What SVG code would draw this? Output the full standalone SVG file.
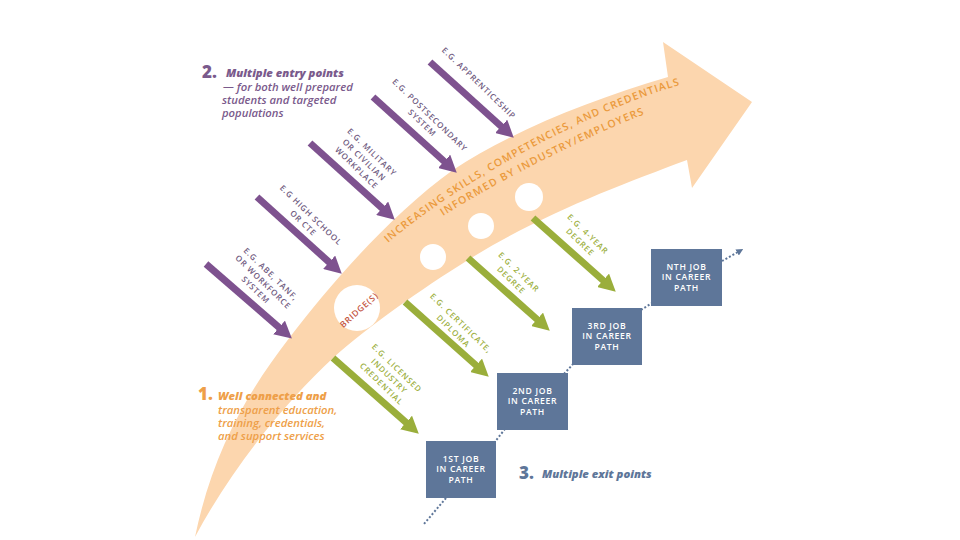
<svg xmlns="http://www.w3.org/2000/svg" width="960" height="540" viewBox="0 0 960 540">
<defs>
<style>
.pt{font-family:"Open Sans","Liberation Sans",sans-serif;font-size:8px;font-weight:600;fill:#6f5a80;text-anchor:middle;letter-spacing:0.9px}
.gt{font-family:"Open Sans","Liberation Sans",sans-serif;font-size:8px;font-weight:600;fill:#9db03f;text-anchor:middle;letter-spacing:0.9px}
.bt{font-family:"Open Sans","Liberation Sans",sans-serif;font-size:8.6px;font-weight:600;fill:#ffffff;text-anchor:middle;letter-spacing:0.7px}
.box{fill:#5e7699}
.band{font-family:"Open Sans","Liberation Sans",sans-serif;font-size:10.5px;font-weight:600;fill:#eb9a3c;letter-spacing:0.6px}
.pa{stroke:#7e528f;stroke-width:7;fill:none;marker-end:url(#ahP)}
.ga{stroke:#9aae3b;stroke-width:7;fill:none;marker-end:url(#ahG)}
.dot{stroke:#5e7699;stroke-width:2;stroke-dasharray:2 2;fill:none}
.lbl{font-family:"Open Sans","Liberation Sans",sans-serif;font-style:italic;font-weight:600;font-size:11.3px}
.num{font-family:"Open Sans","Liberation Sans",sans-serif;font-weight:800;font-size:17px}
</style>
<marker id="ahP" markerUnits="userSpaceOnUse" markerWidth="17" markerHeight="18" refX="1" refY="9" orient="auto" viewBox="0 0 17 18"><path d="M0,0 L17,9 L0,18 z" fill="#7e528f"/></marker>
<marker id="ahG" markerUnits="userSpaceOnUse" markerWidth="17" markerHeight="18" refX="1" refY="9" orient="auto" viewBox="0 0 17 18"><path d="M0,0 L17,9 L0,18 z" fill="#9aae3b"/></marker>
<marker id="ahB" markerUnits="userSpaceOnUse" markerWidth="7" markerHeight="7" refX="1" refY="3.5" orient="auto" viewBox="0 0 7 7"><path d="M0,0 L7,3.5 L0,7 z" fill="#5e7699"/></marker>
<path id="t1" d="M388,243 C455,185 585,112 680,85"/>
<path id="t2" d="M443,216 C493,184 585,137 645,114"/>
</defs>
<rect width="960" height="540" fill="#ffffff"/>

<g id="band">
<path d="M195,537 C212,455 245,395 290,337 C330,285 390,215 453,170 C510,132 590,100 668,77 L663,42 L752,102 L692,188 L687,160 C620,185 540,215 468,260 C420,290 370,325 333,358 C290,398 235,462 195,537 Z" fill="#fcd6ae"/>
<text class="band"><textPath href="#t1" textLength="334" lengthAdjust="spacing">INCREASING SKILLS, COMPETENCIES, AND CREDENTIALS</textPath></text>
<text class="band"><textPath href="#t2" textLength="226" lengthAdjust="spacing">INFORMED BY INDUSTRY/EMPLOYERS</textPath></text>
</g>

<g id="bridge">
<circle cx="357" cy="308" r="23" fill="#ffffff"/>
<text transform="translate(359,310) rotate(-42)" y="3" style="font-family:'Open Sans','Liberation Sans',sans-serif;font-size:8.5px;font-weight:600;fill:#c4553f;text-anchor:middle;letter-spacing:0.8px">BRIDGE(S)</text>
</g>
<g id="step1"><circle cx="433" cy="257" r="13" fill="#ffffff"/></g>
<g id="step2"><circle cx="481" cy="226" r="13" fill="#ffffff"/></g>
<g id="step3"><circle cx="529" cy="197" r="14" fill="#ffffff"/></g>

<g id="connectors">
<line class="pa" x1="206" y1="264" x2="279.8" y2="328.1"/>
<line class="pa" x1="257" y1="197" x2="329.9" y2="262.9"/>
<line class="pa" x1="310" y1="143" x2="382.9" y2="208.9"/>
<line class="pa" x1="373" y1="97" x2="444.9" y2="162"/>
<line class="pa" x1="430" y1="62" x2="501.9" y2="127"/>
<line class="ga" x1="333" y1="358" x2="406.8" y2="423.1"/>
<line class="ga" x1="405" y1="302" x2="476.8" y2="366"/>
<line class="ga" x1="468" y1="258" x2="537.8" y2="320"/>
<line class="ga" x1="533" y1="218" x2="603.8" y2="281"/>
<line class="dot" x1="446" y1="498" x2="424" y2="524"/>
<line class="dot" x1="494" y1="443" x2="505" y2="429"/>
<line class="dot" x1="564" y1="374" x2="573" y2="364"/>
<line class="dot" x1="641" y1="310" x2="652" y2="303"/>
<line class="dot" x1="722" y1="261" x2="738" y2="252" style="marker-end:url(#ahB)"/>
</g>

<g id="entry-abe" transform="translate(271,274) rotate(44)">
<text class="pt" y="3">E.G. ABE, TANF,</text><text class="pt" y="14">OR WORKFORCE</text><text class="pt" y="25">SYSTEM</text>
</g>
<g id="entry-hs" transform="translate(311,215) rotate(44)">
<text class="pt" y="3">E.G HIGH SCHOOL</text><text class="pt" y="14">OR CTE</text>
</g>
<g id="entry-mil" transform="translate(372,152) rotate(44)">
<text class="pt" y="3">E.G. MILITARY</text><text class="pt" y="14">OR CIVILIAN</text><text class="pt" y="25">WORKPLACE</text>
</g>
<g id="entry-post" transform="translate(430,115) rotate(44)">
<text class="pt" y="3">E.G. POSTSECONDARY</text><text class="pt" y="14">SYSTEM</text>
</g>
<g id="entry-app" transform="translate(479,83) rotate(44)">
<text class="pt" y="3">E.G. APPRENTICESHIP</text>
</g>

<g id="exit-lic" transform="translate(397,368) rotate(44)">
<text class="gt" y="3">E.G. LICENSED</text><text class="gt" y="14">INDUSTRY</text><text class="gt" y="25">CREDENTIAL</text>
</g>
<g id="exit-cert" transform="translate(461,323) rotate(44)">
<text class="gt" y="3">E.G. CERTIFICATE,</text><text class="gt" y="14">DIPLOMA</text>
</g>
<g id="exit-2yr" transform="translate(519,272) rotate(44)">
<text class="gt" y="3">E.G. 2-YEAR</text><text class="gt" y="14">DEGREE</text>
</g>
<g id="exit-4yr" transform="translate(588,234) rotate(44)">
<text class="gt" y="3">E.G. 4-YEAR</text><text class="gt" y="14">DEGREE</text>
</g>

<g id="job1">
<rect class="box" x="426" y="441" width="70" height="57"/>
<text class="bt" x="461" y="461.5">1ST JOB</text><text class="bt" x="461" y="472">IN CAREER</text><text class="bt" x="461" y="482.5">PATH</text>
</g>
<g id="job2">
<rect class="box" x="497" y="373" width="71" height="57"/>
<text class="bt" x="532.5" y="393.5">2ND JOB</text><text class="bt" x="532.5" y="404">IN CAREER</text><text class="bt" x="532.5" y="414.5">PATH</text>
</g>
<g id="job3">
<rect class="box" x="572" y="308" width="70" height="57"/>
<text class="bt" x="607" y="328.5">3RD JOB</text><text class="bt" x="607" y="339">IN CAREER</text><text class="bt" x="607" y="349.5">PATH</text>
</g>
<g id="jobN">
<rect class="box" x="651" y="249" width="71" height="57"/>
<text class="bt" x="686.5" y="269.5">NTH JOB</text><text class="bt" x="686.5" y="280">IN CAREER</text><text class="bt" x="686.5" y="290.5">PATH</text>
</g>

<g id="label2" fill="#7a5a8c">
<text class="num" x="202" y="78">2.</text>
<text class="lbl" x="226" y="77" style="font-weight:800">Multiple entry points</text>
<text class="lbl" x="223" y="91">— for both well prepared</text>
<text class="lbl" x="222" y="104">students and targeted</text>
<text class="lbl" x="222" y="117">populations</text>
</g>
<g id="label1" fill="#ee9f49">
<text class="num" x="198" y="400">1.</text>
<text class="lbl" x="218" y="400" style="font-weight:800">Well connected and</text>
<text class="lbl" x="218" y="414">transparent education,</text>
<text class="lbl" x="218" y="427">training, credentials,</text>
<text class="lbl" x="218" y="440">and support services</text>
</g>
<g id="label3" fill="#5e7699">
<text class="num" x="519" y="479">3.</text>
<text class="lbl" x="542" y="478" style="font-weight:800">Multiple exit points</text>
</g>
</svg>
